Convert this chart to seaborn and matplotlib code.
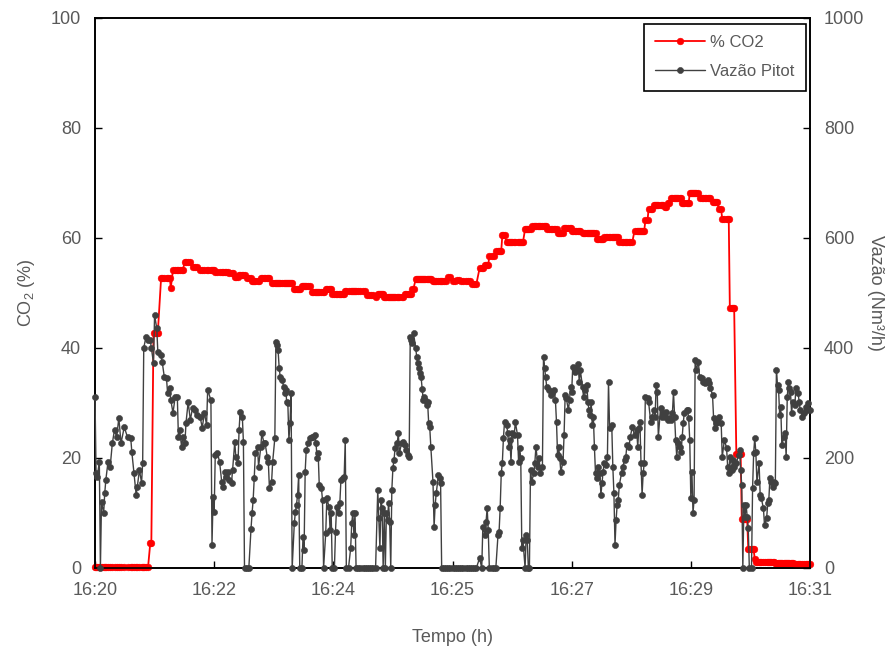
import numpy as np
import pandas as pd
import matplotlib
matplotlib.use("Agg")
import matplotlib.pyplot as plt
import seaborn as sns

# Logger clock (seconds after 16:20:00) and Pitot flow readings (Nm3/h)
time_s = [
    0, 1, 2, 4, 5, 6, 8, 9, 10, 12, 14, 16, 18, 20, 22, 24, 27, 30, 33, 34, 36, 38, 39, 41, 43, 44,
    45, 47, 49, 51, 52, 54, 55, 57, 58, 61, 62, 64, 66, 67, 69, 70, 72, 74, 76, 77, 78, 80, 81, 83,
    84, 86, 88, 90, 92, 94, 97, 99, 101, 103, 104, 107,
    108, 109, 110, 111, 113, 115, 117, 118, 120, 121, 123, 124, 126, 127, 129, 130, 132, 133, 134,
    136, 137, 138, 140, 142,
    144, 145, 146, 147, 148, 150, 151, 153, 154, 156, 157, 159, 160, 161, 163, 164, 166,
    167, 168, 169, 170, 171, 173, 174, 175, 176, 177, 178, 179, 180, 181, 182, 184, 185, 186, 187,
    188, 189, 191, 192, 193,
    194, 195, 197, 198, 200, 201, 203, 204, 205, 206, 207, 209, 210, 211, 213, 214, 216, 217, 218,
    219, 221, 222, 223, 225, 226, 227, 229, 230, 231, 232, 234, 236, 237, 238, 239, 240, 241,
    243, 245, 247, 249, 251, 253, 255, 257, 259,
    261, 262, 263, 264, 265, 266, 267, 268, 269, 270, 271, 272, 273, 274, 275, 276, 277, 279, 280,
    281, 283, 284, 286, 287, 289, 290,
    291, 292, 293, 294, 296, 297, 298, 299, 300, 301, 302, 303, 304, 305, 306, 307, 308, 309, 310,
    312, 313, 314, 315, 317, 318, 319, 320,
    322, 324, 326, 328, 330, 332, 334, 336, 338, 340, 342, 344, 346, 348, 350, 352,
    355, 357, 358, 360, 361, 362, 363, 364, 366, 368, 370, 372, 373, 374, 375, 376, 377, 378, 380,
    381, 382, 383, 384, 385, 387, 388, 390, 391, 392, 393, 394, 395, 397, 398, 399, 400, 401,
    402, 403, 405, 406, 407, 409, 410, 411, 413, 414, 415, 416, 417, 419, 421, 422, 424, 425, 426,
    427, 428, 429, 430, 432, 433,
    434, 435, 437, 438, 439, 440, 441, 443, 444, 446, 447, 448, 450, 451, 452, 454, 455, 456, 457,
    458, 459, 460, 461, 462, 463, 464, 466, 467, 468, 469, 470, 472, 473,
    474, 475, 477, 478, 479, 480, 481, 482, 483, 484, 486, 487, 489, 490, 491, 493, 494, 496, 498,
    500, 501, 502, 503, 504, 505, 506, 507,
    508, 510, 511, 513, 514, 516, 517, 518, 519, 520, 522, 523, 524, 526, 527, 529, 530, 532, 533,
    534, 535, 536, 537, 538, 540, 541, 542, 543, 544, 546, 547, 548, 549, 550, 551, 552, 553,
    554, 555, 557, 558, 560, 561, 563, 564, 566, 567, 568, 570, 571, 572, 573, 574, 576, 578, 579,
    581, 583, 584, 585, 586, 588, 589, 590, 592, 594, 595, 596, 597,
    598, 599, 600, 601, 602, 603, 604, 606, 607, 608, 609, 610, 611, 613, 614, 615, 617, 618, 620,
    621, 622, 623, 624, 626, 627, 628,
    629, 630, 631, 632, 633, 634, 636, 637, 638, 639, 640, 641, 642, 643, 644, 646, 647, 649, 650,
    651, 653, 654, 656, 657, 658, 660,
]
flow_nm3h = [
    311, 172, 166, 193, 0, 120, 100, 136, 160, 193, 184, 227, 251, 238, 273, 227, 256, 238, 236, 211,
    172, 133, 147, 178, 155, 191,
    400, 420, 415, 415, 400, 373, 460, 436, 393, 387, 375, 347, 345, 318, 327, 305, 282, 311, 311,
    238, 251, 220, 238, 227, 264, 302, 269, 291, 287, 278, 275, 255, 282, 260, 324, 305,
    42, 129, 102, 205, 209, 193, 156, 147, 175, 165, 175, 160, 155, 178, 229, 202, 191, 251, 284,
    275, 229, 0, 0, 0,
    71, 100, 124, 164, 209, 220, 184, 220, 245, 227, 227, 202, 193, 145, 156, 193, 236,
    411, 405, 396, 364, 347, 342, 329, 318, 324, 302, 300, 233, 264, 318, 0, 82, 102, 115, 133,
    169, 0, 0, 56, 33,
    175, 215, 227, 236, 238, 238, 242, 227, 200, 209, 151, 145, 124, 0, 64, 127, 111, 69, 100,
    0, 0, 66, 111, 100, 118, 160, 164, 166, 233, 0, 0, 36, 82, 100, 60, 100, 0,
    0, 0, 0, 0, 0, 0, 0, 0, 0,
    142, 91, 36, 124, 109, 0, 100, 0, 100, 87, 118, 84, 0, 142, 182, 196, 218, 227, 245,
    209, 227, 229, 224, 215, 205, 202,
    420, 415, 409, 427, 400, 384, 373, 364, 354, 347, 325, 305, 311, 305, 296, 302, 264, 256, 220,
    156, 75, 115, 136, 169, 164, 155, 0,
    0, 0, 0, 0, 0, 0, 0, 0, 0, 0, 0, 0, 0, 0, 0, 0,
    18, 0, 75, 60, 84, 109, 69, 0, 0, 0, 0, 60, 66, 109, 172, 191, 236, 265, 260,
    245, 220, 233, 193, 245, 242, 265, 242, 193, 218, 200, 36, 51, 0, 60, 51, 0, 0,
    178, 156, 172, 191, 220, 184, 200, 172, 184, 384, 364, 347, 329, 324, 315, 318, 324, 305, 265,
    205, 220, 200, 175, 193, 242,
    315, 309, 287, 305, 329, 320, 366, 356, 364, 371, 338, 360, 329, 311, 324, 333, 302, 287, 278,
    302, 260, 275, 220, 172, 164, 184, 172, 133, 155, 175, 191, 187, 202,
    338, 255, 260, 184, 136, 42, 87, 115, 124, 151, 172, 184, 196, 202, 224, 220, 238, 256, 242,
    251, 220, 255, 265, 191, 133, 172, 191,
    311, 309, 302, 265, 275, 287, 275, 333, 320, 238, 291, 275, 282, 275, 284, 269, 273, 269, 282,
    320, 275, 233, 202, 227, 220, 211, 238, 264, 282, 287, 287, 273, 233, 127, 175, 100, 124,
    378, 360, 375, 347, 345, 338, 336, 338, 342, 336, 327, 315, 273, 255, 264, 265, 275, 264, 202,
    233, 218, 184, 172, 202, 178, 196, 184, 191, 205, 215, 178, 151,
    0, 115, 93, 115, 93, 73, 0, 0, 145, 209, 236, 211, 156, 191, 133, 127, 109, 78, 91,
    118, 124, 164, 156, 147, 156, 155,
    360, 333, 324, 278, 293, 224, 238, 245, 202, 311, 338, 327, 320, 282, 302, 296, 327, 318, 302,
    287, 275, 282, 293, 287, 300, 287,
]

# CO2 analyser output holds each reading until the next update:
# value of each hold and the last second it applies to
co2_step_end_s = [
    50, 52, 60, 69, 71, 82, 89, 95, 110, 123, 127, 132, 138, 144, 152, 162, 183, 190, 198, 212,
    218, 230, 249, 257, 260, 266, 284, 292, 295, 310, 324, 329, 333, 337, 346, 352, 358, 363, 369,
    375, 379, 396, 402, 416, 426, 432, 439, 448, 462, 469, 483, 497, 507, 510, 515, 524, 527, 531,
    541, 548, 557, 568, 574, 578, 585, 591, 596, 602, 608, 609, 627, 645, 660,
]
co2_step_pct = [
    0.2, 4.5, 42.8, 52.7, 51.0, 54.2, 55.7, 54.7, 54.2, 53.9, 53.6, 52.9, 53.2, 52.7, 52.1, 52.7,
    51.9, 50.7, 51.2, 50.2, 50.8, 49.9, 50.4, 49.6, 49.3, 49.9, 49.3, 49.8, 50.8, 52.5, 52.2, 52.9,
    52.1, 52.4, 52.1, 51.6, 54.5, 55.1, 56.7, 57.7, 60.5, 59.2, 61.6, 62.2, 61.6, 61.0, 61.8, 61.3,
    61.0, 59.8, 60.1, 59.3, 61.3, 63.2, 65.2, 66.0, 65.6, 66.4, 67.2, 66.3, 68.2, 67.2, 66.6, 65.2,
    63.4, 47.3, 20.8, 9.0, 3.4, 1.6, 1.15, 0.9, 0.8,
]

tick_s = [0, 110, 220, 330, 440, 550, 660]
tick_labels = ["16:20", "16:22", "16:24", "16:25", "16:27", "16:29", "16:31"]

assert len(time_s) == len(flow_nm3h)
assert len(co2_step_end_s) == len(co2_step_pct)

# CO2 value held at each logger timestamp
co2_pct = np.asarray(co2_step_pct)[np.searchsorted(co2_step_end_s, time_s)]
df = pd.DataFrame({"t": time_s, "co2": co2_pct, "flow": flow_nm3h})

sns.set_style("ticks")
plt.rcParams.update({
    "font.family": ["Liberation Sans", "DejaVu Sans"],
    "mathtext.fontset": "custom",
    "mathtext.rm": "Liberation Sans",
    "mathtext.it": "Liberation Sans:italic",
    "mathtext.bf": "Liberation Sans:bold",
})

TXT = "#595959"
RED = "#FF0000"
GREY = "#404040"

fig = plt.figure(figsize=(8.89, 6.52), dpi=100)
ax = fig.add_axes([95 / 889, 1 - 568 / 652, 715 / 889, 550 / 652])
ax2 = ax.twinx()

sns.lineplot(data=df, x="t", y="co2", ax=ax, color=RED, linewidth=1.3,
             marker="o", markersize=4.8, markeredgecolor=RED, markeredgewidth=0.4,
             estimator=None, sort=False, legend=False, clip_on=False, zorder=3)
sns.lineplot(data=df, x="t", y="flow", ax=ax2, color=GREY, linewidth=1.0,
             marker="o", markersize=4.4, markeredgecolor=GREY, markeredgewidth=0.4,
             estimator=None, sort=False, legend=False, clip_on=False, zorder=3)

ax.set_xlim(0, 660)
ax.set_ylim(0, 100)
ax2.set_ylim(0, 1000)
ax.set_xticks(tick_s)
ax.set_xticklabels(tick_labels)
ax.set_yticks(np.arange(0, 101, 20))
ax2.set_yticks(np.arange(0, 1001, 200))

for a in (ax, ax2):
    for s in a.spines.values():
        s.set_visible(True)
        s.set_color("black")
        s.set_linewidth(1.2)
    a.tick_params(direction="in", length=5, width=1, color="black",
                  labelcolor=TXT, labelsize=13, pad=10)
ax.tick_params(axis="x", top=False)

ax.set_xlabel("Tempo (h)", fontsize=13, color=TXT, labelpad=22)
ax.set_ylabel("CO$_2$ (%)", fontsize=13, color=TXT, labelpad=10)
ax2.set_ylabel("Vazão (Nm³/h)", fontsize=13, color=TXT, rotation=270, labelpad=14)

leg = ax2.legend([ax.lines[0], ax2.lines[0]], ["% CO2", "Vazão Pitot"],
                 loc="upper right", bbox_to_anchor=(0.995, 0.99), fontsize=12,
                 frameon=True, fancybox=False, framealpha=1, edgecolor="black",
                 handlelength=3.0, handletextpad=0.3, labelspacing=0.85,
                 borderpad=0.7, borderaxespad=0.0)
leg.get_frame().set_linewidth(1.2)
for t in leg.get_texts():
    t.set_color(TXT)

fig.savefig("out.png", dpi=100)
